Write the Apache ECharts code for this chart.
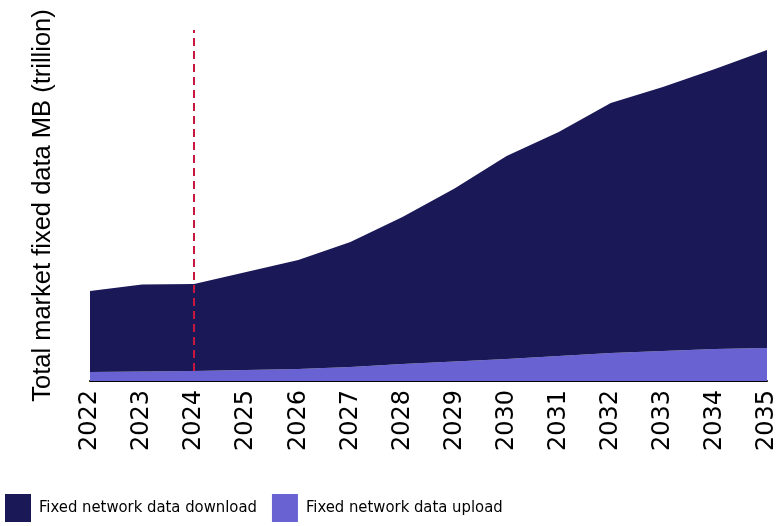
<!DOCTYPE html>
<html>
<head>
<meta charset="utf-8">
<script src="https://cdn.jsdelivr.net/npm/echarts@6/dist/echarts.min.js"></script>
<style>
  html, body { margin: 0; padding: 0; background: #fff; }
  #chart { width: 779px; height: 526px; }
</style>
</head>
<body>
<div id="chart"></div>
<script>
const years = ['2022','2023','2024','2025','2026','2027','2028','2029','2030','2031','2032','2033','2034','2035'];
const downloadData = [8.1, 8.7, 8.7, 9.8, 10.9, 12.5, 14.7, 17.3, 20.3, 22.4, 25.0, 26.4, 28.0, 29.8];
const uploadData = [0.9, 0.95, 1.0, 1.1, 1.2, 1.4, 1.7, 1.95, 2.2, 2.5, 2.8, 3.0, 3.2, 3.3];
const forecastYear = '2024';

const myChart = echarts.init(document.getElementById('chart'));

const option = {
    animation: false,
    grid: { left: 90, right: 10, top: 30, bottom: 145, containLabel: false },
    legend: {
        data: ['Fixed network data download', 'Fixed network data upload'],
        left: 5,
        top: 494,
        padding: 0,
        icon: 'rect',
        itemWidth: 26,
        itemHeight: 28,
        itemGap: 15,
        textStyle: {
            fontFamily: '"DejaVu Sans Condensed", sans-serif',
            fontSize: 16.5,
            color: '#000',
            padding: [0, 0, 0, 3]
        }
    },
    xAxis: {
        type: 'category',
        data: years,
        boundaryGap: false,
        axisLine: { lineStyle: { color: '#000', width: 2 } },
        axisTick: { show: false },
        axisLabel: { rotate: 90, margin: 9, fontFamily: '"DejaVu Sans", sans-serif', fontSize: 24, color: '#000' }
    },
    yAxis: {
        type: 'value',
        min: 0,
        max: 35.1,
        name: 'Total market fixed data MB (trillion)',
        nameLocation: 'middle',
        nameGap: 34,
        nameTextStyle: { fontFamily: '"Liberation Sans", Arial, sans-serif', fontSize: 25.5, color: '#000' },
        axisLine: { show: false },
        axisTick: { show: false },
        axisLabel: { show: false },
        splitLine: { show: false }
    },
    series: [
        {
            name: 'Fixed network data upload',
            type: 'line',
            stack: 'total',
            data: uploadData,
            symbol: 'none',
            lineStyle: { width: 0 },
            areaStyle: { color: '#6862d3', opacity: 1 },
            itemStyle: { color: '#6862d3' },
            markLine: {
                silent: true,
                symbol: 'none',
                label: { show: false },
                lineStyle: { color: '#c8173f', type: [8, 5], width: 2 },
                data: [[{ coord: [forecastYear, 1.0] }, { coord: [forecastYear, 35.1] }]]
            }
        },
        {
            name: 'Fixed network data download',
            type: 'line',
            stack: 'total',
            data: downloadData,
            symbol: 'none',
            lineStyle: { width: 0 },
            areaStyle: { color: '#1b1857', opacity: 1 },
            itemStyle: { color: '#1b1857' }
        }
    ]
};
myChart.setOption(option);
</script>
</body>
</html>
